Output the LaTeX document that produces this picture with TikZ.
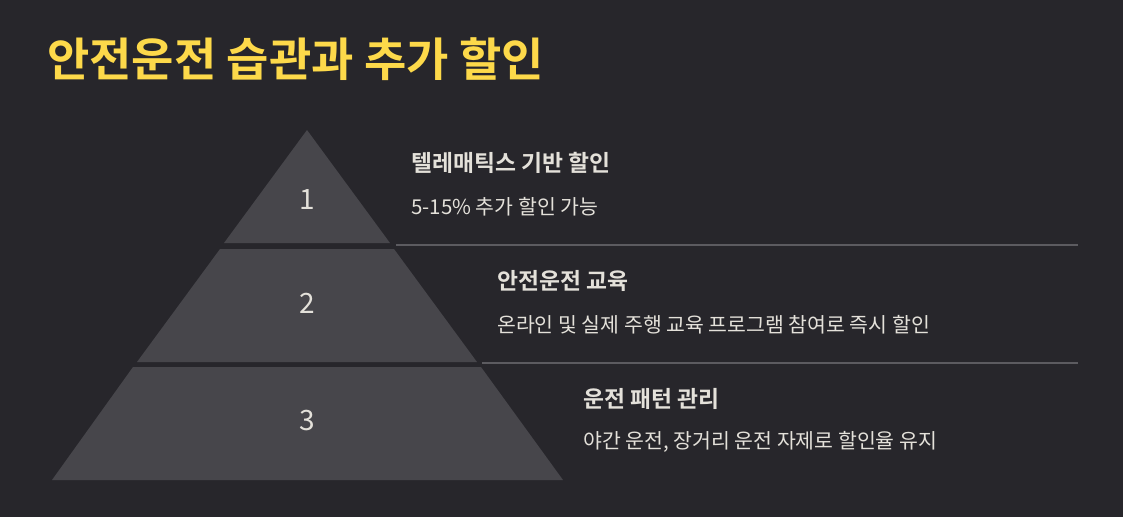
\documentclass[tikz,border=0pt]{standalone}
\usepackage{fontspec}
\setmainfont{Noto Sans CJK KR}
\newfontfamily\kr{Noto Sans CJK KR}
\newfontfamily\krb{Noto Sans CJK KR Bold}
\definecolor{bgc}{HTML}{27262B}
\definecolor{layerc}{HTML}{47464B}
\definecolor{linec}{HTML}{5C5B60}
\definecolor{txtc}{HTML}{E4E1DA}
\definecolor{titlec}{HTML}{FDD94A}
\tikzset{
  layer/.style={fill=layerc, draw=none},
  sep/.style={draw=linec, line width=1.3pt},
  numtxt/.style={text=txtc, font=\kr\fontsize{28}{30}\selectfont, inner sep=0pt},
  headtxt/.style={text=txtc, font=\krb\fontsize{22.8}{26}\selectfont, anchor=west, inner sep=0pt},
  desctxt/.style={text=txtc, font=\kr\fontsize{20.5}{24}\selectfont, anchor=west, inner sep=0pt},
}
\begin{document}
\begin{tikzpicture}[x=1pt,y=-1pt]
\fill[bgc] (0,0) rectangle (1123,517);
\useasboundingbox (0,0) rectangle (1123,517);
% title
\node[anchor=west, inner sep=0pt, text=titlec, font=\krb\fontsize{46}{50}\selectfont] (title) at (47,59) {안전운전 습관과 추가 할인};
% layers
\fill[layer] (307,130) -- (390,243) -- (224,243) -- cycle;
\fill[layer] (220,249) -- (394,249) -- (477,362) -- (137,362) -- cycle;
\fill[layer] (133,367) -- (481,367) -- (563,480) -- (52,480) -- cycle;
\node[numtxt] (n1) at (307,200) {1};
\node[numtxt] (n2) at (307,303) {2};
\node[numtxt] (n3) at (307,421) {3};
% separators
\coordinate (s1a) at (396,245);
\coordinate (s1b) at (1078,245);
\coordinate (s2a) at (482,363);
\coordinate (s2b) at (1078,363);
\draw[sep] (s1a) -- (s1b);
\draw[sep] (s2a) -- (s2b);
% texts
\node[headtxt] (h1) at (411,163) {텔레매틱스 기반 할인};
\node[desctxt] (d1) at (411,207) {5-15\% 추가 할인 가능};
\node[headtxt] (h2) at (497,281) {안전운전 교육};
\node[desctxt] (d2) at (497,325) {온라인 및 실제 주행 교육 프로그램 참여로 즉시 할인};
\node[headtxt] (h3) at (583,399) {운전 패턴 관리};
\node[desctxt] (d3) at (583,442) {야간 운전, 장거리 운전 자제로 할인율 유지};
\end{tikzpicture}
\end{document}
